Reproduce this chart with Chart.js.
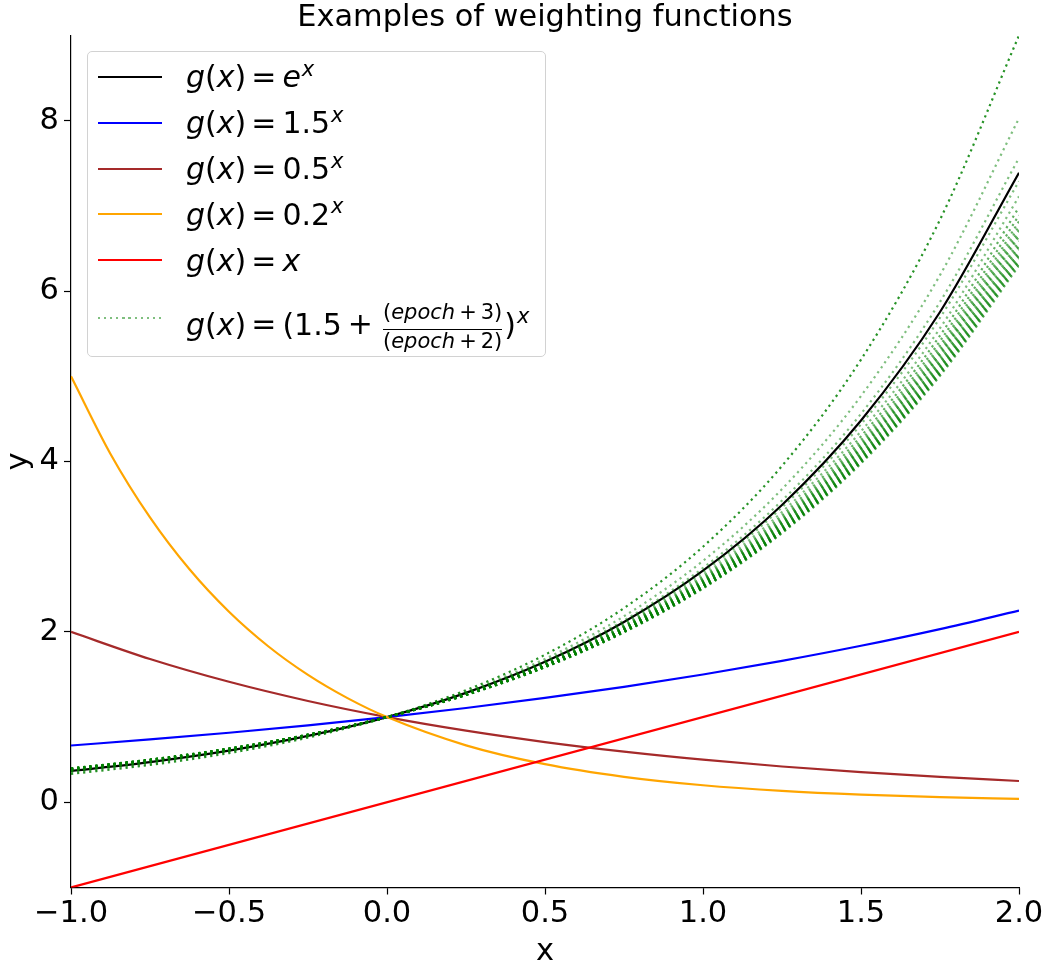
<!DOCTYPE html>
<html>
<head>
<meta charset="utf-8">
<script src="https://cdn.jsdelivr.net/npm/chart.js@4.4.1/dist/chart.umd.min.js"></script>
<style>
  html, body { margin: 0; padding: 0; background: #fff; }
  body { font-family: 'DejaVu Sans', sans-serif; }
  #wrap { position: relative; width: 1048px; height: 967px; }
  #title { position: absolute; left: 71px; width: 948px; top: 1px; text-align: center;
           font-size: 30.4px; line-height: 30px; color: #000; }
  #legend { position: absolute; left: 87px; top: 51px; width: 459px; height: 306px;
            box-sizing: border-box; border: 1.3px solid #d2d2d2; border-radius: 5px;
            background: rgba(255,255,255,0.8); }
  .h { position: absolute; left: 10px; width: 64px; height: 2.2px; }
  .t { position: absolute; left: 98px; font-size: 30px; line-height: 30px; white-space: nowrap; color: #000; }
  .t i { font-style: italic; }
  .eq { margin: 0 6px 0 5px; }
  .pl { margin: 0 6px; }
  sup { font-size: 21px; line-height: 0; vertical-align: 0; position: relative; top: -11.5px; margin-left: 1px; }
  .frac { display: inline-block; vertical-align: -13.3px; font-size: 21px; text-align: center; margin: 0 2px 0 4px; }
  .frac > span { display: block; line-height: 20px; }
  .frac .num { padding-bottom: 7px; border-bottom: 1.3px solid #000; }
  .frac .den { padding-top: 1px; }
  .frac .sp { margin: 0 4px; }
</style>
</head>
<body>
<div id="wrap">
  <canvas id="chart" width="1048" height="967"></canvas>
  <div id="title">Examples of weighting functions</div>
  <div id="legend">
    <div class="h" style="top:23.6px;background:#000"></div>
    <div class="t" style="top:10.3px"><i>g</i>(<i>x</i>)<span class="eq">=</span><i>e</i><sup><i>x</i></sup></div>
    <div class="h" style="top:69.6px;background:#0000ff"></div>
    <div class="t" style="top:56.3px"><i>g</i>(<i>x</i>)<span class="eq">=</span>1.5<sup><i>x</i></sup></div>
    <div class="h" style="top:115.6px;background:#a52a2a"></div>
    <div class="t" style="top:102.3px"><i>g</i>(<i>x</i>)<span class="eq">=</span>0.5<sup><i>x</i></sup></div>
    <div class="h" style="top:161.2px;background:#ffa500"></div>
    <div class="t" style="top:147.9px"><i>g</i>(<i>x</i>)<span class="eq">=</span>0.2<sup><i>x</i></sup></div>
    <div class="h" style="top:207.2px;background:#ff0000"></div>
    <div class="t" style="top:193.9px"><i>g</i>(<i>x</i>)<span class="eq">=</span><i>x</i></div>
    <div class="h" style="top:264.6px;background:repeating-linear-gradient(to right, rgba(0,128,0,0.5) 0 2.2px, transparent 2.2px 6.1px)"></div>
    <div class="t" style="top:249.6px"><i>g</i>(<i>x</i>)<span class="eq">=</span>(1.5<span class="pl">+</span><span class="frac"><span class="num">(<i>epoch</i><span class="sp">+</span>3)</span><span class="den">(<i>epoch</i><span class="sp">+</span>2)</span></span>)<sup><i>x</i></sup></div>
  </div>
</div>
<script>
// ===== DATA =====
const xs = [-1, -0.75, -0.5, -0.25, 0, 0.25, 0.5, 0.75, 1, 1.25, 1.5, 1.75, 2];

const expY     = [0.3679, 0.4724, 0.6065, 0.7788, 1, 1.2840, 1.6487, 2.1170, 2.7183, 3.4903, 4.4817, 5.7546, 7.3891];
const pow15Y   = [0.6667, 0.7378, 0.8165, 0.9036, 1, 1.1067, 1.2247, 1.3554, 1.5, 1.6600, 1.8371, 2.0331, 2.25];
const pow05Y   = [2, 1.6818, 1.4142, 1.1892, 1, 0.8409, 0.7071, 0.5946, 0.5, 0.4204, 0.3536, 0.2973, 0.25];
// orange curve bends hard on the left, so it is read at a finer step there
const pow02X   = [-1, -0.875, -0.75, -0.625, -0.5, -0.375, -0.25, -0.125, 0, 0.25, 0.5, 0.75, 1, 1.25, 1.5, 1.75, 2];
const pow02Y   = [5, 4.0889, 3.3437, 2.7344, 2.2361, 1.8286, 1.4954, 1.2228, 1, 0.6687, 0.4472, 0.2991, 0.2, 0.1337, 0.0894, 0.0598, 0.04];
const identX   = [-1, 2];
const identY   = [-1, 2];

// green dotted family, one row per epoch curve (top curve first)
const epochY = [
  [0.3333, 0.4387, 0.5774, 0.7598, 1, 1.3161, 1.7321, 2.2795, 3, 3.9482, 5.1962, 6.8385, 9],
  [0.3529, 0.4579, 0.5941, 0.7708, 1, 1.2974, 1.6833, 2.1839, 2.8333, 3.6760, 4.7692, 6.1876, 8.0278],
  [0.3636, 0.4683, 0.6030, 0.7766, 1, 1.2878, 1.6583, 2.1355, 2.75, 3.5413, 4.5604, 5.8726, 7.5625],
  [0.3704, 0.4748, 0.6086, 0.7801, 1, 1.2819, 1.6432, 2.1063, 2.7, 3.4610, 4.4366, 5.6870, 7.29],
  [0.375, 0.4792, 0.6124, 0.7826, 1, 1.2779, 1.6330, 2.0868, 2.6667, 3.4077, 4.3546, 5.5647, 7.1111],
  [0.3784, 0.4824, 0.6151, 0.7843, 1, 1.2750, 1.6257, 2.0728, 2.6429, 3.3697, 4.2965, 5.4781, 6.9847],
  [0.3810, 0.4849, 0.6172, 0.7856, 1, 1.2729, 1.6202, 2.0623, 2.625, 3.3413, 4.2530, 5.4135, 6.8906],
  [0.3830, 0.4868, 0.6189, 0.7867, 1, 1.2712, 1.6159, 2.0541, 2.6111, 3.3192, 4.2193, 5.3634, 6.8179],
  [0.3846, 0.4884, 0.6202, 0.7875, 1, 1.2698, 1.6125, 2.0475, 2.6, 3.3015, 4.1924, 5.3236, 6.76],
  [0.3860, 0.4897, 0.6213, 0.7882, 1, 1.2687, 1.6096, 2.0422, 2.5909, 3.2871, 4.1704, 5.2910, 6.7128],
  [0.3871, 0.4908, 0.6222, 0.7888, 1, 1.2678, 1.6073, 2.0377, 2.5833, 3.2751, 4.1521, 5.2640, 6.6736],
  [0.3881, 0.4917, 0.6229, 0.7893, 1, 1.2670, 1.6053, 2.0339, 2.5769, 3.2650, 4.1367, 5.2412, 6.6405],
  [0.3896, 0.4932, 0.6242, 0.7901, 1, 1.2657, 1.6021, 2.0278, 2.5667, 3.2487, 4.1120, 5.2047, 6.5878],
  [0.3908, 0.4943, 0.6251, 0.7907, 1, 1.2648, 1.5996, 2.0232, 2.5588, 3.2363, 4.0932, 5.1769, 6.5476],
  [0.3918, 0.4952, 0.6259, 0.7911, 1, 1.2640, 1.5977, 2.0195, 2.5526, 3.2265, 4.0783, 5.1550, 6.5159],
  [0.3929, 0.4962, 0.6268, 0.7917, 1, 1.2631, 1.5954, 2.0152, 2.5455, 3.2152, 4.0611, 5.1297, 6.4793],
  [0.3937, 0.4970, 0.6275, 0.7921, 1, 1.2624, 1.5937, 2.0120, 2.54, 3.2066, 4.0481, 5.1105, 6.4516],
  [0.3946, 0.4978, 0.6281, 0.7926, 1, 1.2618, 1.5920, 2.0087, 2.5345, 3.1979, 4.0349, 5.0911, 6.4236],
  [0.3953, 0.4986, 0.6288, 0.7930, 1, 1.2611, 1.5904, 2.0057, 2.5294, 3.1899, 4.0228, 5.0732, 6.3979],
  [0.3962, 0.4994, 0.6295, 0.7934, 1, 1.2604, 1.5887, 2.0024, 2.5238, 3.1811, 4.0095, 5.0536, 6.3696],
  [0.3968, 0.5000, 0.6299, 0.7937, 1, 1.2599, 1.5875, 2.0001, 2.52, 3.1751, 4.0004, 5.0402, 6.3504],
  [0.3976, 0.5007, 0.6306, 0.7941, 1, 1.2593, 1.5859, 1.9971, 2.5149, 3.1671, 3.9883, 5.0225, 6.3249],
  [0.3984, 0.5015, 0.6312, 0.7945, 1, 1.2587, 1.5843, 1.9941, 2.5099, 3.1592, 3.9764, 5.0050, 6.2996],
];

const xTicks = [-1, -0.5, 0, 0.5, 1, 1.5, 2];
const yTicks = [0, 2, 4, 6, 8];

// ===== HELPERS =====
const pts = (xv, yv) => xv.map((x, i) => ({ x, y: yv[i] }));
const minus = v => (v < 0 ? '\u2212' : '');

function solid(data, color, order) {
  return { data, borderColor: color, borderWidth: 2.2, order, cubicInterpolationMode: 'monotone', fill: false };
}

// the reference overlays ~100 of these curves; the lower ones pile up into a dark band
function epochColor(i) {
  if (i === 0) return 'rgba(0,128,0,0.85)';
  return i < 5 ? 'rgba(0,128,0,0.5)' : 'rgba(0,128,0,0.62)';
}

// ===== DATASETS =====
const datasets = [
  solid(pts(xs, expY), '#000000', 10),
  solid(pts(xs, pow15Y), '#0000ff', 9),
  solid(pts(xs, pow05Y), '#a52a2a', 8),
  solid(pts(pow02X, pow02Y), '#ffa500', 7),
  solid(pts(identX, identY), '#ff0000', 6),
];
epochY.forEach((ys, i) => {
  datasets.push({
    data: pts(xs, ys),
    borderColor: epochColor(i),
    borderWidth: 2.2,
    borderDash: [2.2, 3.9],
    cubicInterpolationMode: 'monotone',
    order: 5 - i * 0.01,
    fill: false,
  });
});

Chart.defaults.font.family = "'DejaVu Sans', sans-serif";
Chart.defaults.color = '#000';

const axisGrid = { drawOnChartArea: false, drawTicks: true, tickLength: 7, tickWidth: 1.2, tickColor: '#000', color: '#000' };
const axisBorder = { display: true, color: '#000', width: 1.2 };

new Chart(document.getElementById('chart'), {
  type: 'line',
  data: { datasets },
  options: {
    responsive: false,
    animation: false,
    devicePixelRatio: 1,
    layout: { padding: { top: 35.5, right: 29, left: 0, bottom: 0 } },
    elements: { point: { radius: 0 } },
    plugins: { legend: { display: false }, tooltip: { enabled: false }, title: { display: false } },
    scales: {
      x: {
        type: 'linear', min: -1, max: 2,
        grid: axisGrid, border: axisBorder,
        afterBuildTicks: s => { s.ticks = xTicks.map(v => ({ value: v })); },
        afterFit: s => { s.height = 79.5; },
        ticks: { font: { size: 30.5 }, padding: 1, maxRotation: 0,
                 callback: v => minus(v) + Math.abs(v).toFixed(1) },
        title: { display: true, text: 'x', font: { size: 30.5, lineHeight: 1 }, padding: { top: 2, bottom: 0 } },
      },
      y: {
        type: 'linear', min: -1, max: 9,
        grid: axisGrid, border: axisBorder,
        afterBuildTicks: s => { s.ticks = yTicks.map(v => ({ value: v })); },
        afterFit: s => { s.width = 71; },
        ticks: { font: { size: 30.5 }, padding: 5,
                 callback: v => minus(v) + Math.abs(v) },
        title: { display: true, text: 'y', font: { size: 30.5, lineHeight: 1 }, padding: { top: 4, bottom: 0 } },
      },
    },
  },
});
</script>
</body>
</html>
